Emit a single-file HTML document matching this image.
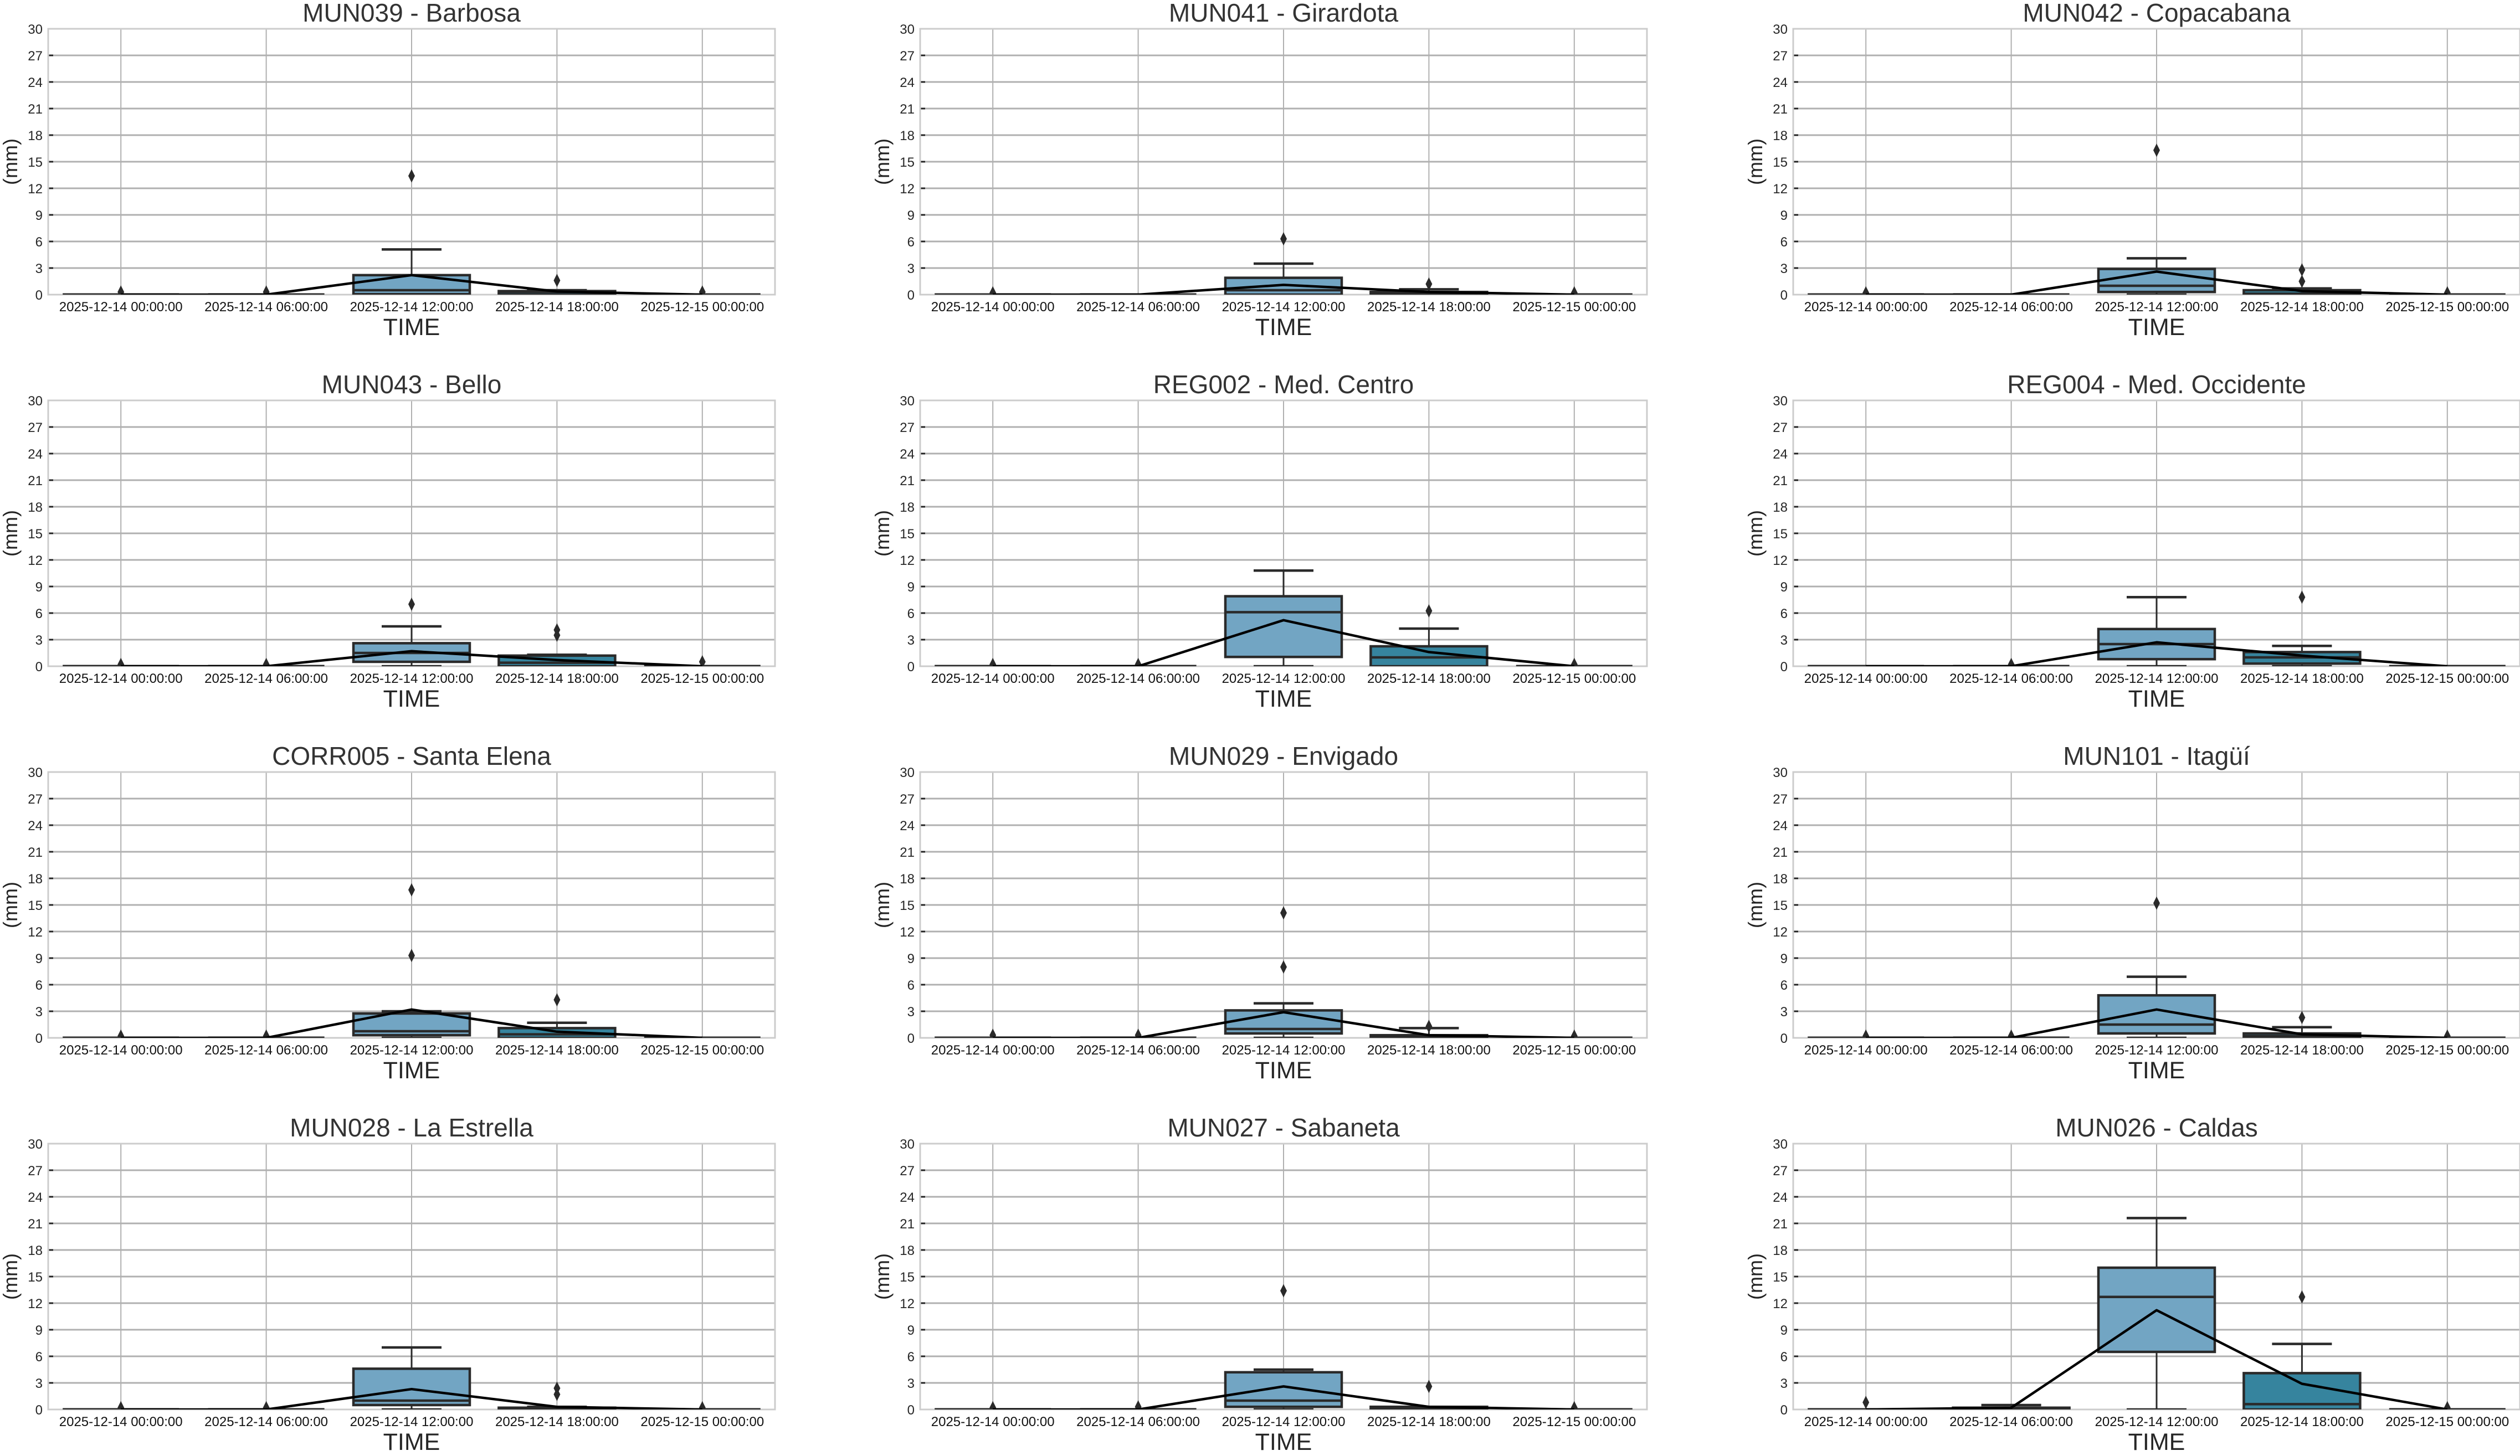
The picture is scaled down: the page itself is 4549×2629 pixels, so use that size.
<!DOCTYPE html>
<html><head><meta charset="utf-8"><style>
html,body{margin:0;padding:0;background:#fff}
svg{display:block}
text{font-family:"Liberation Sans",Arial,sans-serif}
</style></head><body>
<svg id="s" xmlns="http://www.w3.org/2000/svg" width="4549" height="2629" viewBox="0 0 4549 2629"></svg>
<script>
var P=[
["MUN039 - Barbosa",[[0.3],[0.3],[0.05,0.5,2.2,0,5.1,[13.4]],[0,0.3,0.4,0,0.5,[1.6]],[0.3]],[0,0,2.2,0.35,0]],
["MUN041 - Girardota",[[0.2],[],[0,0.5,1.9,0,3.5,[6.3]],[0,0.1,0.3,0,0.6,[1.2]],[0.2]],[0,0,1.1,0.3,0]],
["MUN042 - Copacabana",[[0.2],[],[0.3,1,2.9,0,4.1,[16.3]],[0,0.1,0.5,0,0.7,[1.5,2.8]],[0.2]],[0,0,2.6,0.4,0]],
["MUN043 - Bello",[[0.2],[0.2],[0.5,1.5,2.6,0,4.5,[7]],[0,0.4,1.2,0,1.3,[3.5,4.1]],[0.5]],[0,0,1.7,0.7,0]],
["REG002 - Med. Centro",[[0.2],[0.2],[1.05,6.1,7.9,0,10.8,[]],[0,1,2.25,0,4.25,[6.25]],[0.2]],[0,0,5.2,1.6,0]],
["REG004 - Med. Occidente",[[],[0.2],[0.8,2.5,4.2,0,7.8,[]],[0.3,1,1.6,0,2.3,[7.8]],[]],[0,0,2.7,1.2,0]],
["CORR005 - Santa Elena",[[0.2],[0.2],[0.3,0.75,2.75,0,3.0,[9.3,16.7]],[0,0.4,1.1,0,1.7,[4.3]],[]],[0,0,3.2,0.7,0]],
["MUN029 - Envigado",[[0.3],[0.3],[0.5,1.0,3.1,0,3.9,[8,14.1]],[0,0.1,0.3,0,1.1,[1.3]],[0.2]],[0,0,2.9,0.3,0]],
["MUN101 - Itagüí",[[0.2],[0.2],[0.5,1.5,4.8,0,6.9,[15.2]],[0,0.2,0.5,0,1.2,[2.3]],[0.2]],[0,0,3.2,0.4,0]],
["MUN028 - La Estrella",[[0.2],[0.2],[0.5,1,4.6,0,7,[]],[0,0.1,0.2,0,0.3,[1.7,2.4]],[0.2]],[0,0,2.3,0.3,0]],
["MUN027 - Sabaneta",[[0.2],[0.3],[0.3,1,4.2,0,4.5,[13.4]],[0,0.1,0.3,0,0.3,[2.6]],[0.2]],[0,0,2.6,0.3,0]],
["MUN026 - Caldas",[[0.8],[0,0.1,0.2,0,0.5,[]],[6.5,12.7,16,0,21.6,[]],[0,0.6,4.1,0,7.4,[12.7]],[0.2]],[0,0.2,11.2,2.9,0]]
];
var labs=["2025-12-14 00:00:00","2025-12-14 06:00:00","2025-12-14 12:00:00","2025-12-14 18:00:00","2025-12-15 00:00:00"];
var fills=["#5f9ab8","#8fb8cf","#72a5c3","#36849e","#4a8fa9"];
var o=[];
var W=1312,H=480,E="#2a2a2a";
P.forEach(function(p,k){
 var L=[87,1661,3237][k%3],T=[52,723,1394,2065][Math.floor(k/3)];
 var B=T+H;
 function y(v){return B-v*16;}
 o.push('<clipPath id="c'+k+'"><rect x="'+L+'" y="'+T+'" width="'+W+'" height="'+H+'"/></clipPath>');
 for(var g=3;g<30;g+=3){o.push('<line x1="'+L+'" x2="'+(L+W)+'" y1="'+y(g)+'" y2="'+y(g)+'" stroke="#b0b0b0" stroke-width="3"/>');
  o.push('<line x1="'+L+'" x2="'+(L+9)+'" y1="'+y(g)+'" y2="'+y(g)+'" stroke="#222" stroke-width="3"/>');}
 for(var i=0;i<5;i++){var cx=L+131.2+i*262.4;o.push('<line x1="'+cx+'" x2="'+cx+'" y1="'+T+'" y2="'+B+'" stroke="#b0b0b0" stroke-width="2"/>');}
 o.push('<rect x="'+L+'" y="'+T+'" width="'+W+'" height="'+H+'" fill="none" stroke="#cccccc" stroke-width="3"/>');
 for(var g=0;g<=30;g+=3)o.push('<text x="'+(L-10)+'" y="'+(y(g)+9)+'" font-size="24" text-anchor="end" fill="#262626">'+g+'</text>');
 o.push('<g clip-path="url(#c'+k+')">');
 p[1].forEach(function(b,i){
  var cx=L+131.2+i*262.4;
  var outs;
  if(b.length==6){
   outs=b[5];
   o.push('<line x1="'+cx+'" x2="'+cx+'" y1="'+y(b[4])+'" y2="'+y(b[2])+'" stroke="'+E+'" stroke-width="3"/>');
   o.push('<line x1="'+cx+'" x2="'+cx+'" y1="'+y(b[0])+'" y2="'+y(b[3])+'" stroke="'+E+'" stroke-width="3"/>');
   o.push('<line x1="'+(cx-54)+'" x2="'+(cx+54)+'" y1="'+y(b[4])+'" y2="'+y(b[4])+'" stroke="'+E+'" stroke-width="4.5"/>');
   o.push('<line x1="'+(cx-54)+'" x2="'+(cx+54)+'" y1="'+y(b[3])+'" y2="'+y(b[3])+'" stroke="'+E+'" stroke-width="4.5"/>');
   o.push('<rect x="'+(cx-105)+'" y="'+y(b[2])+'" width="210" height="'+Math.max(0,(b[2]-b[0])*16)+'" fill="'+fills[i]+'" stroke="'+E+'" stroke-width="4.5"/>');
   o.push('<line x1="'+(cx-105)+'" x2="'+(cx+105)+'" y1="'+y(b[1])+'" y2="'+y(b[1])+'" stroke="'+E+'" stroke-width="4.5"/>');
  }else{
   outs=b;
   o.push('<line x1="'+(cx-105)+'" x2="'+(cx+105)+'" y1="'+(B-1)+'" y2="'+(B-1)+'" stroke="'+E+'" stroke-width="3"/>');
  }
  outs.forEach(function(v){var yy=y(v);o.push('<polygon points="'+cx+','+(yy-12)+' '+(cx+6)+','+yy+' '+cx+','+(yy+12)+' '+(cx-6)+','+yy+'" fill="'+E+'"/>');});
 });
 var pts=p[2].map(function(v,i){return (L+131.2+i*262.4)+','+y(v);}).join(' ');
 o.push('<polyline points="'+pts+'" fill="none" stroke="#000" stroke-width="4.5" stroke-linejoin="round"/>');
 o.push('</g>');
 for(var i=0;i<5;i++)o.push('<text x="'+(L+131.2+i*262.4)+'" y="'+(B+30)+'" font-size="24" text-anchor="middle" fill="#111">'+labs[i]+'</text>');
 o.push('<text x="'+(L+W/2)+'" y="'+(B+73)+'" font-size="43" text-anchor="middle" fill="#262626">TIME</text>');
 o.push('<text x="'+(L+W/2)+'" y="'+(T-13)+'" font-size="46" text-anchor="middle" fill="#333">'+p[0]+'</text>');
 o.push('<text transform="translate('+(L-56)+','+(T+H/2)+') rotate(-90)" font-size="36" text-anchor="middle" fill="#222">(mm)</text>');
});
document.getElementById('s').innerHTML=o.join('');
</script>
</body></html>
